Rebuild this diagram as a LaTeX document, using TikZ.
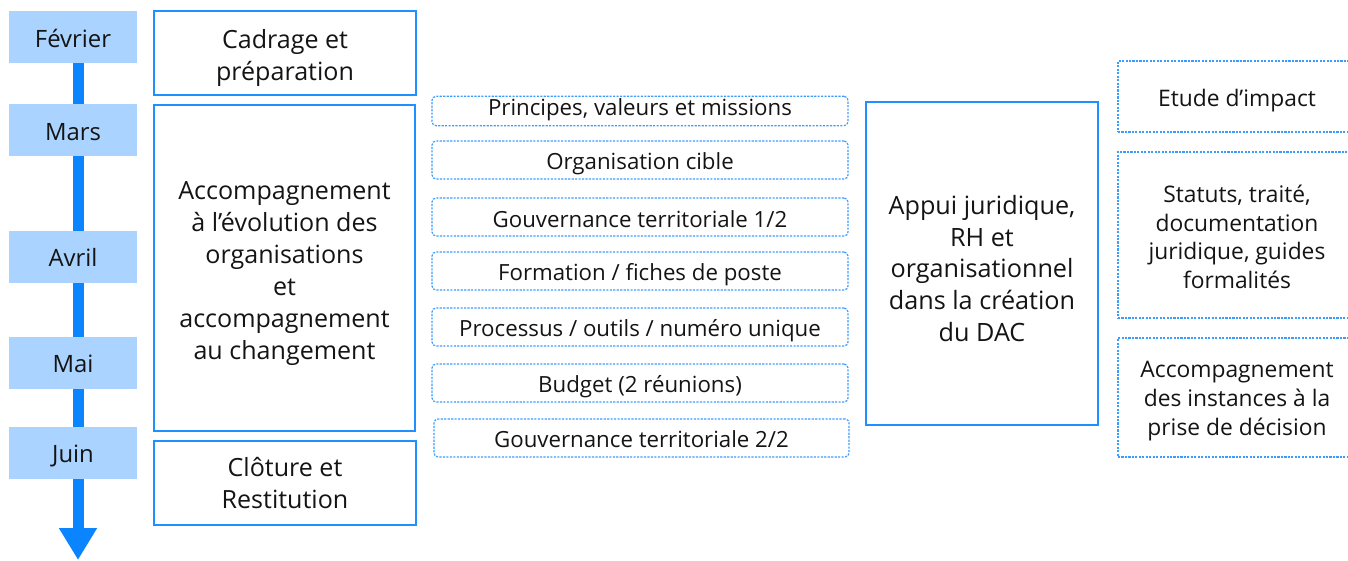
\documentclass[tikz,border=0pt]{standalone}
\usepackage{fontspec}
\setmainfont{Open Sans}
\usetikzlibrary{arrows.meta}
\definecolor{monthfill}{RGB}{170,212,255}
\definecolor{arrowblue}{RGB}{10,132,255}
\definecolor{boxblue}{RGB}{30,144,255}
\definecolor{dotblue}{RGB}{60,155,255}
\definecolor{txt}{RGB}{20,20,20}
\newcommand{\tbs}[2]{\raisebox{#1}[\height][\depth]{\begin{tabular}{@{}c@{}}#2\end{tabular}}}
\newcommand{\tb}[1]{\tbs{-2.5pt}{#1}}
\tikzset{
  sz/.style 2 args={minimum width={#1*0.75pt},minimum height={#2*0.75pt}},
  base/.style={inner sep=0pt, text=txt},
  monthbox/.style={base, fill=monthfill, sz={128}{52}, font={\fontsize{17.9}{23}\selectfont}},
  phasebox/.style={base, draw=boxblue, line width=1.5pt, font={\fontsize{18.8}{24}\selectfont}},
  appuibox/.style={base, draw=boxblue, line width=1.5pt, font={\fontsize{18.9}{23.8}\selectfont}},
  topicbox/.style={base, draw=dotblue, line width=0.9pt, dash pattern=on 1.6pt off 1pt, rounded corners=3pt, font={\fontsize{16.7}{22}\selectfont}},
  sidebox/.style={base, draw=dotblue, line width=0.9pt, dash pattern=on 1.6pt off 1pt, font={\fontsize{17.1}{21.6}\selectfont}},
  timeline/.style={draw=arrowblue, line width=8.25pt, -{Triangle[width=27pt,length=24pt]}},
}
\begin{document}
\begin{tikzpicture}[x=0.75pt,y=-0.75pt]
\useasboundingbox (0,0) rectangle (1348,560);
% timeline
\coordinate (tstart) at (78,63);
\coordinate (tend) at (78,560);
\draw[timeline] (tstart) -- (tend);
% months
\node[monthbox] (fev) at (73,37) {\tbs{-3.5pt}{Février}};
\node[monthbox] (mars) at (73,130) {\tbs{-3.5pt}{Mars}};
\node[monthbox] (avril) at (73,257) {\tb{Avril}};
\node[monthbox] (mai) at (73,363) {\tb{Mai}};
\node[monthbox] (juin) at (73,453) {\tb{Juin}};
% phases
\node[phasebox, sz={262}{84}] (cadrage) at (285,53) {\tbs{-3.5pt}{Cadrage et\\préparation}};
\node[phasebox, sz={261}{326}] (accomp) at (284.5,268) {\tbs{-3.5pt}{Accompagnement\\à l’évolution des\\organisations\\et\\accompagnement\\au changement}};
\node[phasebox, sz={262}{84}] (cloture) at (285,483) {\tb{Clôture et\\Restitution}};
% topics
\node[topicbox, sz={416}{28}] (principes) at (640,111) {\tbs{1.2pt}{Principes, valeurs et missions}};
\node[topicbox, sz={416}{38}] (orga) at (640,160) {\tb{Organisation cible}};
\node[topicbox, sz={416}{38}] (gouv1) at (640,217) {\tbs{-3.5pt}{Gouvernance territoriale 1/2}};
\node[topicbox, sz={416}{38}] (formation) at (640,271) {\tb{Formation / fiches de poste}};
\node[topicbox, sz={416}{38}] (processus) at (640,327) {\tb{Processus / outils / numéro unique}};
\node[topicbox, sz={416}{38}] (budget) at (640,383) {\tb{Budget (2 réunions)}};
\node[topicbox, sz={415}{38}] (gouv2) at (641.5,438) {\tb{Gouvernance territoriale 2/2}};
% appui
\node[appuibox, sz={232}{323}] (appui) at (982,263.5) {\tbs{-6pt}{Appui juridique,\\RH et\\organisationnel\\dans la création\\du DAC}};
% right side
\node[sidebox, sz={238}{71}] (etude) at (1237,96.5) {\tbs{-3pt}{Etude d’impact}};
\node[sidebox, sz={238}{166}] (statuts) at (1237,235) {\tbs{-3.5pt}{Statuts, traité,\\documentation\\juridique, guides\\formalités}};
\node[sidebox, sz={238}{119}] (instances) at (1237,397.5) {\tb{Accompagnement\\des instances à la\\prise de décision}};
\end{tikzpicture}
\end{document}
